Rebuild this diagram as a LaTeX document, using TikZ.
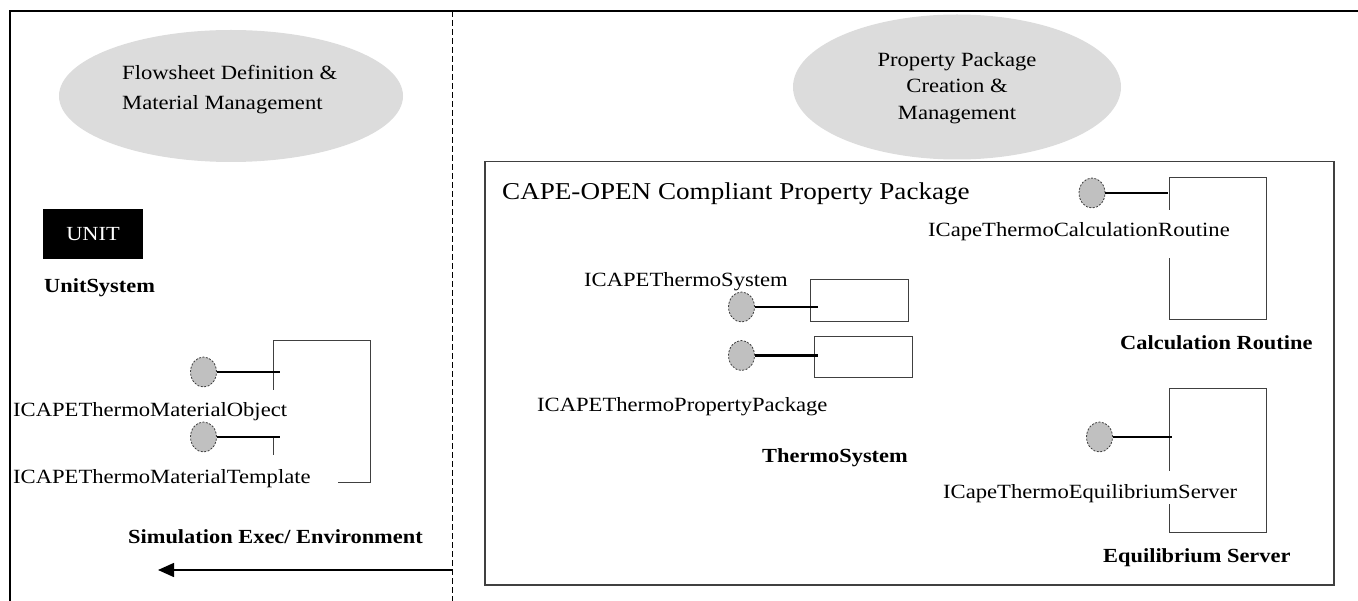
\documentclass[tikz,border=0pt]{standalone}
\usepackage{fontspec}
\setmainfont{Liberation Serif}[FakeStretch=1.12]
\usetikzlibrary{shapes.geometric,arrows.meta}
\definecolor{bubblegray}{HTML}{DCDCDC}
\definecolor{ballgray}{HTML}{C0C0C0}
\definecolor{edgegray}{HTML}{404040}
\begin{document}
\begin{tikzpicture}[x=1pt,y=-1pt,
  txt/.style={anchor=base west, inner sep=0pt, font=\fontsize{20.2}{30}\selectfont},
  ctxt/.style={txt, anchor=base},
  btxt/.style={txt, font=\fontsize{20}{30}\selectfont\bfseries},
  bubble/.style={ellipse, fill=bubblegray, inner sep=0pt},
  ball/.style={ellipse, minimum width=26pt, minimum height=30pt, inner sep=0pt,
    fill=ballgray, draw=edgegray, dash pattern=on 2pt off 1.5pt, line width=0.8pt},
  stick/.style={line width=2.6pt},
  part/.style={draw=edgegray, line width=1pt},
  frame/.style={line width=2.4pt}]
\useasboundingbox (0,0) rectangle (1358,601);

% outer frame and the dashed divider
\draw[frame] (10,601) -- (10,11) -- (1358,11);
\draw[line width=1pt, dash pattern=on 6pt off 3pt] (452,11) -- (452,601);

% activity bubbles
\node[bubble, minimum width=344pt, minimum height=132pt] (fdm) at (231,96) {};
\node[txt] (fdm1) at (122,80) {Flowsheet Definition \&};
\node[txt] (fdm2) at (122,110) {Material Management};

\node[bubble, minimum width=328pt, minimum height=145pt] (ppcm) at (957,87) {};
\node[ctxt] (ppcm1) at (957,67) {Property Package};
\node[ctxt] (ppcm2) at (957,93) {Creation \&};
\node[ctxt] (ppcm3) at (957,120) {Management};

% unit system
\node[fill=black, text=white, minimum width=100pt, minimum height=50pt, inner sep=0pt,
  font=\fontsize{20}{24}\selectfont] (unit) at (93,234) {UNIT};
\node[btxt] (unitlbl) at (44,293) {UnitSystem};

% material object component of the simulation executive
\draw[part] (273,390) -- (273,341) -- (370,341) -- (370,483) -- (338,483);
\draw[part] (273,437) -- (273,455);
\node[ball] (bMO) at (203.5,372) {};
\coordinate (pMO) at (280,372);
\draw[stick] (bMO) -- (pMO);
\node[txt] (lMO) at (13,417) {ICAPEThermoMaterialObject};
\node[ball] (bMT) at (203.5,437) {};
\coordinate (pMT) at (280,437);
\draw[stick] (bMT) -- (pMT);
\node[txt] (lMT) at (13,483) {ICAPEThermoMaterialTemplate};
\node[btxt] (simlbl) at (128,543) {Simulation Exec/ Environment};

\coordinate (arrS) at (452,570);
\coordinate (arrE) at (158,570);
\draw[line width=1.5pt, -{Triangle[length=16pt,width=14pt]}] (arrS) -- (arrE);

% property package
\node[draw=edgegray, line width=1.5pt, minimum width=849pt, minimum height=423pt,
  inner sep=0pt, anchor=north west] (pkg) at (484,161) {};
\node[txt, font=\fontsize{24.2}{30}\selectfont] (pkglbl) at (502,200)
  {CAPE-OPEN Compliant Property Package};

% thermo system
\node[txt] (lTS) at (584,287) {ICAPEThermoSystem};
\draw[part] (810,280) rectangle (908,322);
\node[ball] (bTS) at (741.5,307) {};
\coordinate (pTS) at (818,307);
\draw[stick] (bTS) -- (pTS);
\draw[part] (814,337) rectangle (912,378);
\node[ball] (bPP) at (741.5,355.5) {};
\coordinate (pPP) at (818,355.5);
\draw[stick] (bPP) -- (pPP);
\node[txt] (lPP) at (537,412) {ICAPEThermoPropertyPackage};
\node[btxt] (tslbl) at (762,463) {ThermoSystem};

% calculation routine
\draw[part] (1169,210) -- (1169,178) -- (1266,178) -- (1266,320) -- (1169,320) -- (1169,258);
\node[ball] (bCR) at (1092,193) {};
\coordinate (pCR) at (1168,193);
\draw[stick] (bCR) -- (pCR);
\node[txt] (lCR) at (928,237) {ICapeThermoCalculationRoutine};
\node[btxt] (crlbl) at (1120,350) {Calculation Routine};

% equilibrium server
\draw[part] (1169,471) -- (1169,389) -- (1266,389) -- (1266,532) -- (1169,532) -- (1169,504);
\node[ball] (bES) at (1099.5,437) {};
\coordinate (pES) at (1172,437);
\draw[stick] (bES) -- (pES);
\node[txt] (lES) at (943,498) {ICapeThermoEquilibriumServer};
\node[btxt] (eslbl) at (1103,562) {Equilibrium Server};
\end{tikzpicture}
\end{document}
